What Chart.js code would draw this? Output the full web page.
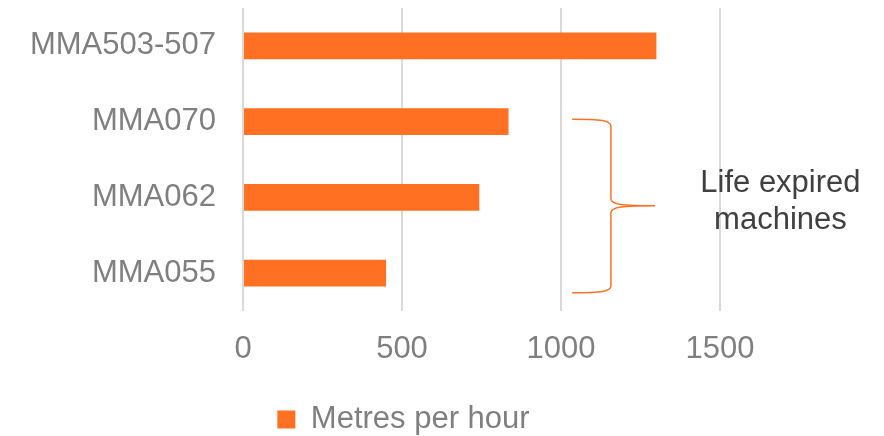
<!DOCTYPE html>
<html>
<head>
<meta charset="utf-8">
<script src="https://cdn.jsdelivr.net/npm/chart.js@4"></script>
<style>
  html, body { margin: 0; padding: 0; background: #fff; }
  #wrap { width: 884px; height: 436px; position: relative; }
</style>
</head>
<body>
<div id="wrap"><canvas id="machineChart"></canvas></div>
<script>
const machines = ['MMA503-507', 'MMA070', 'MMA062', 'MMA055'];
const metresPerHour = [1300, 835, 743, 450];
const seriesLabel = 'Metres per hour';
const axisTicks = [0, 500, 1000, 1500];

// brace note next to the old machines
const noteLines = ['Life expired', 'machines'];
const braceX = [1035, 1157, 1296];   // tips, spine, point (in metres per hour)
const braceY = [0.97, 2.11, 3.26];   // top, middle, bottom (category index)
const noteX = 1690;
const noteY = [1.82, 2.31];

const FONT = '"Liberation Sans", Arial, sans-serif';
const ORANGE = '#ff7022';
const GREY = '#7f7f7f';

const braceNote = {
    id: 'braceNote',
    afterDatasetsDraw(chart) {
        const { ctx, scales: { x, y } } = chart;
        const tip = x.getPixelForValue(braceX[0]);
        const spine = x.getPixelForValue(braceX[1]);
        const point = x.getPixelForValue(braceX[2]);
        const top = y.getPixelForValue(braceY[0]);
        const mid = y.getPixelForValue(braceY[1]);
        const bottom = y.getPixelForValue(braceY[2]);

        ctx.save();
        ctx.strokeStyle = ORANGE;
        ctx.lineWidth = 1.5;
        ctx.beginPath();
        ctx.moveTo(tip, top);
        ctx.bezierCurveTo(spine - 10, top, spine, top + 1, spine, top + 7);
        ctx.lineTo(spine, mid - 7);
        ctx.bezierCurveTo(spine, mid - 1, spine + 12, mid, point, mid);
        ctx.bezierCurveTo(spine + 12, mid, spine, mid + 1, spine, mid + 7);
        ctx.lineTo(spine, bottom - 7);
        ctx.bezierCurveTo(spine, bottom - 1, spine - 10, bottom, tip, bottom);
        ctx.stroke();

        ctx.fillStyle = '#404040';
        ctx.font = '31px ' + FONT;
        ctx.textAlign = 'center';
        ctx.textBaseline = 'middle';
        noteLines.forEach((line, i) => {
            ctx.fillText(line, x.getPixelForValue(noteX), y.getPixelForValue(noteY[i]));
        });
        ctx.restore();
    }
};

// nudge the legend left and down, like the original
const legendShift = {
    id: 'legendShift',
    afterLayout(chart) {
        chart.legend.left -= 36;
        chart.legend.right -= 36;
        chart.legend.top += 9;
        chart.legend.bottom += 9;
    }
};

new Chart(document.getElementById('machineChart'), {
    type: 'bar',
    data: {
        labels: machines,
        datasets: [{
            label: seriesLabel,
            data: metresPerHour,
            backgroundColor: ORANGE,
            barPercentage: 0.35,
            categoryPercentage: 1
        }]
    },
    options: {
        indexAxis: 'y',
        responsive: true,
        maintainAspectRatio: false,
        animation: false,
        layout: { padding: { top: 8, right: 5, bottom: 0, left: 0 } },
        plugins: {
            legend: {
                position: 'bottom',
                labels: {
                    color: GREY,
                    font: { family: FONT, size: 31 },
                    boxWidth: 18,
                    boxHeight: 18,
                    padding: 2
                }
            },
            tooltip: { enabled: false }
        },
        scales: {
            x: {
                min: 0,
                max: 2000,
                afterBuildTicks(scale) {
                    scale.ticks = axisTicks.map(v => ({ value: v })).concat([{ value: 2000 }]);
                },
                afterFit(scale) {
                    scale.height = 82;
                    scale.paddingLeft = 0;
                    scale.paddingRight = 0;
                },
                ticks: {
                    color: GREY,
                    font: { family: FONT, size: 31 },
                    padding: 20,
                    maxRotation: 0,
                    autoSkip: false,
                    callback: v => (axisTicks.includes(v) ? v : '')
                },
                grid: {
                    color: c => (c.tick && axisTicks.includes(c.tick.value) ? '#d9d9d9' : 'rgba(0,0,0,0)'),
                    lineWidth: 2,
                    drawTicks: false
                },
                border: { display: false }
            },
            y: {
                afterFit(scale) {
                    scale.width = 243;
                    scale.paddingTop = 0;
                    scale.paddingBottom = 0;
                },
                ticks: {
                    color: GREY,
                    font: { family: FONT, size: 31 },
                    padding: 27
                },
                grid: { display: false, drawTicks: false },
                border: { display: false }
            }
        }
    },
    plugins: [braceNote, legendShift]
});
</script>
</body>
</html>
